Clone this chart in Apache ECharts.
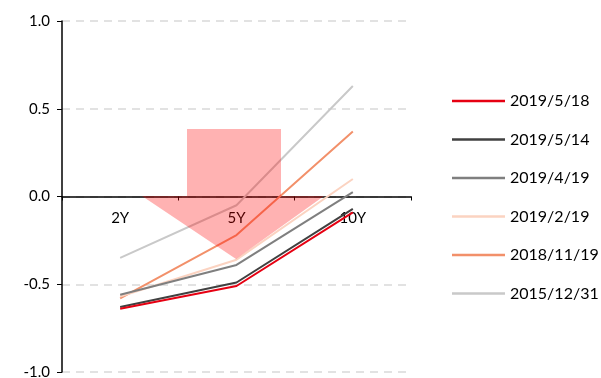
<!DOCTYPE html>
<html>
<head>
<meta charset="utf-8">
<script src="https://cdn.jsdelivr.net/npm/echarts@6/dist/echarts.min.js"></script>
<style>
  html, body { margin: 0; padding: 0; background: #fff; }
  #chart { width: 601px; height: 378px; }
</style>
</head>
<body>
<div id="chart"></div>
<script>
// 期限
const tenors = ['2Y', '5Y', '10Y']
// 各日期曲线
const seriesNames = ['2019/5/18', '2019/5/14', '2019/4/19', '2019/2/19', '2018/11/19', '2015/12/31']
const v20190518 = [-0.64, -0.51, -0.09]
const v20190514 = [-0.63, -0.49, -0.07]
const v20190419 = [-0.56, -0.39, 0.025]
const v20190219 = [-0.57, -0.36, 0.10]
const v20181119 = [-0.58, -0.22, 0.37]
const v20151231 = [-0.35, -0.05, 0.63]
const seriesValues = [v20190518, v20190514, v20190419, v20190219, v20181119, v20151231]
const lineColors = ['#e60012', '#404040', '#7f7f7f', '#fbd3c1', '#f2906a', '#c9c9c9']

const chart = echarts.init(document.getElementById('chart'))
const font = 'Lato, Open Sans, sans-serif'

const option = {
  animation: false,
  grid: { left: 62, right: 190, top: 21, bottom: 6, outerBoundsMode: 'none', containLabel: false },
  legend: {
    orient: 'vertical',
    left: 452,
    top: 93,
    padding: 0,
    icon: 'rect',
    itemWidth: 53,
    itemHeight: 2.5,
    itemGap: 22.5,
    data: seriesNames,
    textStyle: { color: '#000', fontSize: 16, fontFamily: font }
  },
  xAxis: {
    type: 'category',
    data: tenors,
    // 轴线放在 0 处
    offset: -175.5,
    axisLine: { onZero: false, lineStyle: { color: '#000', width: 1.5 } },
    axisTick: { show: true, inside: false, length: 4, lineStyle: { color: '#000' } },
    axisLabel: { color: '#000', fontSize: 15, fontFamily: font, margin: 14 },
    splitLine: { show: false }
  },
  yAxis: {
    type: 'value',
    min: -1,
    max: 1,
    interval: 0.5,
    axisLine: { show: true, lineStyle: { color: '#000', width: 1.5 } },
    axisTick: { show: true, length: 5, lineStyle: { color: '#000' } },
    axisLabel: {
      color: '#000', fontSize: 15, fontFamily: font, margin: 12,
      formatter: v => v.toFixed(1)
    },
    splitLine: { lineStyle: { color: '#d9d9d9', type: [8, 6], width: 1.5 } }
  },
  series: seriesNames.map((name, i) => ({
    name,
    type: 'line',
    data: seriesValues[i],
    symbol: 'none',
    z: 2 + (seriesNames.length - i),
    lineStyle: { color: lineColors[i], width: 2 },
    itemStyle: { color: lineColors[i] }
  }))
}
chart.setOption(option)

// 下行箭头标注
chart.setOption({
  graphic: [{
    type: 'polygon',
    z: 100,
    shape: {
      points: [
        [187, 129], [281, 129], [281, 196], [324, 196],
        [236, 259], [142, 196], [187, 196]
      ]
    },
    style: { fill: 'rgba(255, 0, 0, 0.3)' }
  }]
})
</script>
</body>
</html>
